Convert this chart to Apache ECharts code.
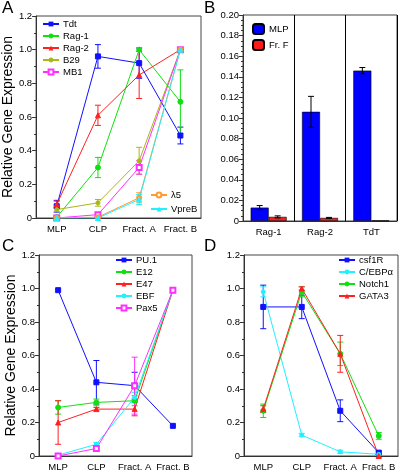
<!DOCTYPE html>
<html><head><meta charset="utf-8">
<script src="https://cdn.jsdelivr.net/npm/echarts@6/dist/echarts.min.js"></script>
<style>html,body{margin:0;padding:0;background:#fff}#c{width:400px;height:472px}</style>
</head><body><div id="c"></div>
<script>
// ---------- data ----------
const stages = ['MLP', 'CLP', 'Fract. A', 'Fract. B'];
const genesB = ['Rag-1', 'Rag-2', 'TdT'];

// Panel A
const aTdt = [0.07, 0.96, 0.92, 0.49],  aTdtErr = [0.035, 0.07, 0.09, 0.05];
const aRag1 = [0.005, 0.30, 1.0, 0.69], aRag1Err = [0, 0.06, 0, 0.19];
const aRag2 = [0.08, 0.61, 0.85, 1.0],  aRag2Err = [0.02, 0.06, 0.14, 0];
const aB29 = [0.05, 0.09, 0.34, 1.0],   aB29Err = [0.01, 0.02, 0.08, 0];
const aMB1 = [0.0, 0.02, 0.30, 1.0],    aMB1Err = [0, 0.01, 0.04, 0];
const aL5 = [0.0, 0.005, 0.12, 1.0],    aL5Err = [0, 0, 0.03, 0];
const aVpreB = [0.0, 0.0, 0.11, 1.0],   aVpreBErr = [0, 0, 0.03, 0];

// Panel B
const bMLP = [0.013, 0.106, 0.146], bMLPErr = [0.002, 0.015, 0.003];
const bFrF = [0.004, 0.003, 0.0005], bFrFErr = [0.001, 0.0005, 0];

// Panel C
const cPU1 = [0.99, 0.44, 0.42, 0.18], cPU1Err = [0, 0.13, 0.08, 0];
const cE12 = [0.29, 0.32, 0.33, 0.99], cE12Err = [0.04, 0.02, 0.03, 0];
const cE47 = [0.20, 0.28, 0.28, 0.99], cE47Err = [0.13, 0.01, 0.04, 0];
const cEBF = [0.005, 0.07, 0.35, 0.99], cEBFErr = [0, 0.01, 0.03, 0];
const cPax5 = [0.0, 0.045, 0.42, 0.99], cPax5Err = [0, 0.01, 0.17, 0];

// Panel D
const dCsf1R = [0.89, 0.89, 0.27, 0.02], dCsf1RErr = [0.13, 0.07, 0.065, 0.01];
const dCEBPa = [0.98, 0.125, 0.025, 0.01], dCEBPaErr = [0.03, 0.01, 0.01, 0];
const dNotch1 = [0.27, 0.98, 0.61, 0.12], dNotch1Err = [0.04, 0.03, 0.07, 0.02];
const dGATA3 = [0.28, 1.0, 0.61, 0.0], dGATA3Err = [0.02, 0.01, 0.11, 0.01];

// ---------- styling / helpers ----------
const FONT = 'Liberation Sans, Arial, sans-serif';
const C = {blue:'#1010ff', green:'#10e010', red:'#ff2020', olive:'#a9b814',
           magenta:'#ff30ff', orange:'#ff9a30', cyan:'#20f0ff'};

function errRenderer(offset, cap) {
  return function (params, api) {
    const x = api.value(0), lo = api.value(1), hi = api.value(2);
    const p1 = api.coord([x, hi]), p2 = api.coord([x, lo]);
    const cx = p1[0] + offset;
    const style = {stroke: api.visual('color'), lineWidth: 1};
    return {type: 'group', children: [
      {type: 'line', shape: {x1: cx, y1: p1[1], x2: cx, y2: p2[1]}, style},
      {type: 'line', shape: {x1: cx - cap, y1: p1[1], x2: cx + cap, y2: p1[1]}, style},
      {type: 'line', shape: {x1: cx - cap, y1: p2[1], x2: cx + cap, y2: p2[1]}, style}
    ]};
  };
}
function errSeries(vals, errs, color, idx, offset) {
  const data = [];
  vals.forEach((v, i) => { if (errs[i] > 0) data.push([i, v - errs[i], v + errs[i]]); });
  return {type: 'custom', name: '_err', xAxisIndex: idx, yAxisIndex: idx,
    renderItem: errRenderer(offset || 0, 3), data: data, itemStyle: {color: color},
    encode: {x: 0, y: [1, 2]}, silent: true, z: 3};
}
function lineSeries(name, vals, color, symbol, idx, size) {
  return {type: 'line', name: name, xAxisIndex: idx, yAxisIndex: idx, data: vals,
    symbol: symbol, symbolSize: size || 5, color: color,
    lineStyle: {width: 1, color: color}, itemStyle: {color: color, borderColor: color},
    z: 4};
}
function both(name, vals, errs, color, symbol, idx, size) {
  return [errSeries(vals, errs, color, idx), lineSeries(name, vals, color, symbol, idx, size)];
}

const grids = [
  {left: 33, top: 16, width: 168, height: 202},
  {left: 243, top: 15, width: 154, height: 206},
  {left: 39, top: 255, width: 153, height: 201},
  {left: 244, top: 255, width: 154, height: 201}
].map(g => Object.assign(g, {show: true, borderColor: '#444', borderWidth: 1, backgroundColor: 'transparent'}));

function xAx(idx, cats, opts) {
  return Object.assign({type: 'category', gridIndex: idx, data: cats,
    axisLine: {lineStyle: {color: '#333'}},
    axisTick: {alignWithLabel: true, length: 3, lineStyle: {color: '#333'}},
    axisLabel: {color: '#000', fontSize: 9.5, fontFamily: FONT, margin: 6, interval: 0}}, opts || {});
}
function yAx(idx, max, interval, digits, minor, name) {
  return {type: 'value', gridIndex: idx, min: 0, max: max, interval: interval,
    axisLine: {show: true, lineStyle: {color: '#333'}},
    axisTick: {show: true, length: 4, lineStyle: {color: '#333'}},
    minorTick: {show: true, splitNumber: minor, length: 2, lineStyle: {color: '#333'}},
    splitLine: {show: false},
    axisLabel: {color: '#000', fontSize: 9.5, fontFamily: FONT, margin: 4,
      formatter: v => v === 0 ? '0' : v.toFixed(digits)},
    name: name || '', nameLocation: 'middle', nameGap: 20, nameRotate: 90,
    nameTextStyle: {color: '#000', fontSize: 14, fontFamily: FONT}};
}
function legend(names, left, top, opts) {
  return Object.assign({data: names, orient: 'vertical', left: left, top: top,
    itemWidth: 16, itemHeight: 6, itemGap: 1, padding: 0,
    textStyle: {fontSize: 9.5, fontFamily: FONT, color: '#000', lineHeight: 11, padding: [0, 0, 0, -1]},
    selectedMode: false}, opts || {});
}

const series = [].concat(
  both('Tdt', aTdt, aTdtErr, C.blue, 'rect', 0),
  both('Rag-1', aRag1, aRag1Err, C.green, 'circle', 0),
  both('Rag-2', aRag2, aRag2Err, C.red, 'triangle', 0),
  both('B29', aB29, aB29Err, C.olive, 'circle', 0, 4),
  both('MB1', aMB1, aMB1Err, C.magenta, 'emptyRect', 0),
  both('λ5', aL5, aL5Err, C.orange, 'emptyCircle', 0, 4),
  both('VpreB', aVpreB, aVpreBErr, C.cyan, 'triangle', 0),

  [{type: 'bar', name: 'MLP', xAxisIndex: 1, yAxisIndex: 1, data: bMLP, barWidth: 18, barGap: '0%',
    itemStyle: {color: '#0000ff', borderColor: '#000', borderWidth: 0.6}},
   {type: 'bar', name: 'Fr. F', xAxisIndex: 1, yAxisIndex: 1, data: bFrF, barWidth: 18, barGap: '0%',
    itemStyle: {color: '#ff1a1a', borderColor: '#000', borderWidth: 0.6}}],
  [errSeries(bMLP, bMLPErr, '#000', 1, -9), errSeries(bFrF, bFrFErr, '#000', 1, 9)],

  both('PU.1', cPU1, cPU1Err, C.blue, 'rect', 2),
  both('E12', cE12, cE12Err, C.green, 'circle', 2),
  both('E47', cE47, cE47Err, C.red, 'triangle', 2),
  both('EBF', cEBF, cEBFErr, C.cyan, 'circle', 2, 4),
  both('Pax5', cPax5, cPax5Err, C.magenta, 'emptyRect', 2),

  both('csf1R', dCsf1R, dCsf1RErr, C.blue, 'rect', 3),
  both('C/EBPα', dCEBPa, dCEBPaErr, C.cyan, 'circle', 3, 4),
  both('Notch1', dNotch1, dNotch1Err, C.green, 'circle', 3),
  both('GATA3', dGATA3, dGATA3Err, C.red, 'triangle', 3)
);

const option = {
  animation: false,
  backgroundColor: '#fff',
  grid: grids,
  xAxis: [
    xAx(0, stages),
    xAx(1, genesB, {axisTick: {alignWithLabel: false, length: 3, lineStyle: {color: '#333'}},
      splitLine: {show: true, lineStyle: {color: '#000', width: 1}}}),
    xAx(2, stages),
    xAx(3, stages)
  ],
  yAxis: [
    yAx(0, 1.2, 0.2, 1, 2, 'Relative Gene Expression'),
    yAx(1, 0.2, 0.02, 2, 4),
    yAx(2, 1.2, 0.2, 1, 2, 'Relative Gene Expression'),
    yAx(3, 1.2, 0.2, 1, 2)
  ],
  legend: [
    legend(['Tdt', 'Rag-1', 'Rag-2', 'B29', 'MB1'], 42, 18.5),
    legend(['λ5', 'VpreB'], 150, 189.5, {itemGap: 3}),
    legend(['MLP', 'Fr. F'], 252, 23, {itemWidth: 11, itemHeight: 10, itemGap: 4,
      textStyle: {fontSize: 9.5, fontFamily: FONT, color: '#000', padding: [0, 0, 0, 0]}}),
    legend(['PU.1', 'E12', 'E47', 'EBF', 'Pax5'], 115, 254.5),
    legend(['csf1R', 'C/EBPα', 'Notch1', 'GATA3'], 338, 254.5)
  ],
  graphic: [
    {type: 'text', left: 2, top: 0, style: {text: 'A', fontSize: 17, fontFamily: FONT, fill: '#000'}},
    {type: 'text', left: 204, top: 0, style: {text: 'B', fontSize: 17, fontFamily: FONT, fill: '#000'}},
    {type: 'text', left: 2, top: 238, style: {text: 'C', fontSize: 17, fontFamily: FONT, fill: '#000'}},
    {type: 'text', left: 204, top: 238, style: {text: 'D', fontSize: 17, fontFamily: FONT, fill: '#000'}}
  ],
  series: series
};
const chart = echarts.init(document.getElementById('c'), null, {renderer: 'canvas'});
chart.setOption(option);
</script>
</body></html>
